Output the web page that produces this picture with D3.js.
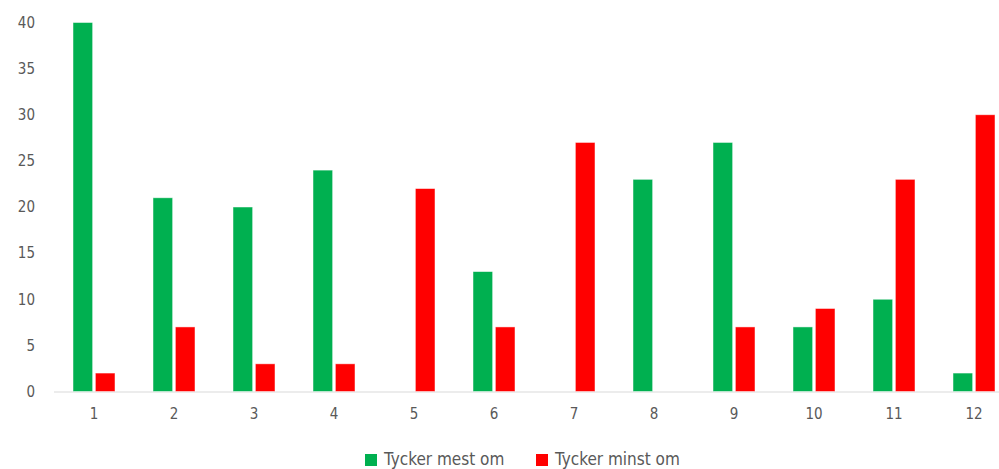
<!DOCTYPE html>
<html><head><meta charset="utf-8">
<script src="https://cdn.jsdelivr.net/npm/d3@7"></script>
<style>html,body{margin:0;padding:0;background:#fff;overflow:hidden}</style>
</head><body>
<svg id="c" width="999" height="469"></svg>
<script>
const categories = ["1","2","3","4","5","6","7","8","9","10","11","12"];
const seriesNames = ["Tycker mest om","Tycker minst om"];
const mest = [40,21,20,24,0,13,0,23,27,7,10,2];
const minst = [2,7,3,3,22,7,27,0,7,9,23,30];
const yTicks = [0,5,10,15,20,25,30,35,40];
const colors = ["#00b050","#ff0000"];

const svg = d3.select("#c");
const font = "'DejaVu Sans Condensed', 'DejaVu Sans', sans-serif";
const textColor = "#595959";

const x = d3.scaleBand().domain(categories).range([54, 1014]).paddingInner(0).paddingOuter(0);
const x1 = d3.scaleBand().domain(seriesNames).range([x.bandwidth()/2 - 21, x.bandwidth()/2 + 21]).paddingInner(0.12);
const y = d3.scaleLinear().domain([0,40]).range([391.5, 22.5]);

// axis line
svg.append("line").attr("x1",54).attr("x2",999).attr("y1",y(0)+0.5).attr("y2",y(0)+0.5)
  .attr("stroke","#d9d9d9").attr("stroke-width",1.2);

const series = [mest, minst];
series.forEach((vals, si) => {
  svg.append("g").selectAll("rect").data(vals).join("rect")
    .attr("x", (d,i) => x(categories[i]) + x1(seriesNames[si]))
    .attr("width", x1.bandwidth())
    .attr("y", d => y(d))
    .attr("height", d => y(0) - y(d))
    .attr("fill", colors[si])
    .attr("stroke", d => d > 0 ? "#ffffff" : "none")
    .attr("stroke-width", 0.8)
    .attr("stroke-opacity", 0.6);
});

// y tick labels
const ya = d3.axisLeft(y).tickValues(yTicks).tickSize(0).tickPadding(0);
const gy = svg.append("g").attr("transform","translate(35,0)").call(ya);
gy.select(".domain").remove();
gy.selectAll("text").attr("font-family",font).attr("font-size",15).attr("fill",textColor);

// x tick labels
const xa = d3.axisBottom(x).tickSize(0).tickPadding(0);
const gx = svg.append("g").attr("transform","translate(0,408)").call(xa);
gx.select(".domain").remove();
gx.selectAll("text").attr("font-family",font).attr("font-size",15).attr("fill",textColor);

// legend
const legend = [{name:seriesNames[0], color:colors[0], x:365},{name:seriesNames[1], color:colors[1], x:536}];
const lg = svg.append("g");
legend.forEach(l => {
  lg.append("rect").attr("x",l.x).attr("y",454).attr("width",12).attr("height",12).attr("fill",l.color);
  lg.append("text").attr("x",l.x+19).attr("y",464.5).attr("font-family",font).attr("font-size",17)
    .attr("fill",textColor).text(l.name);
});
</script>
</body></html>
